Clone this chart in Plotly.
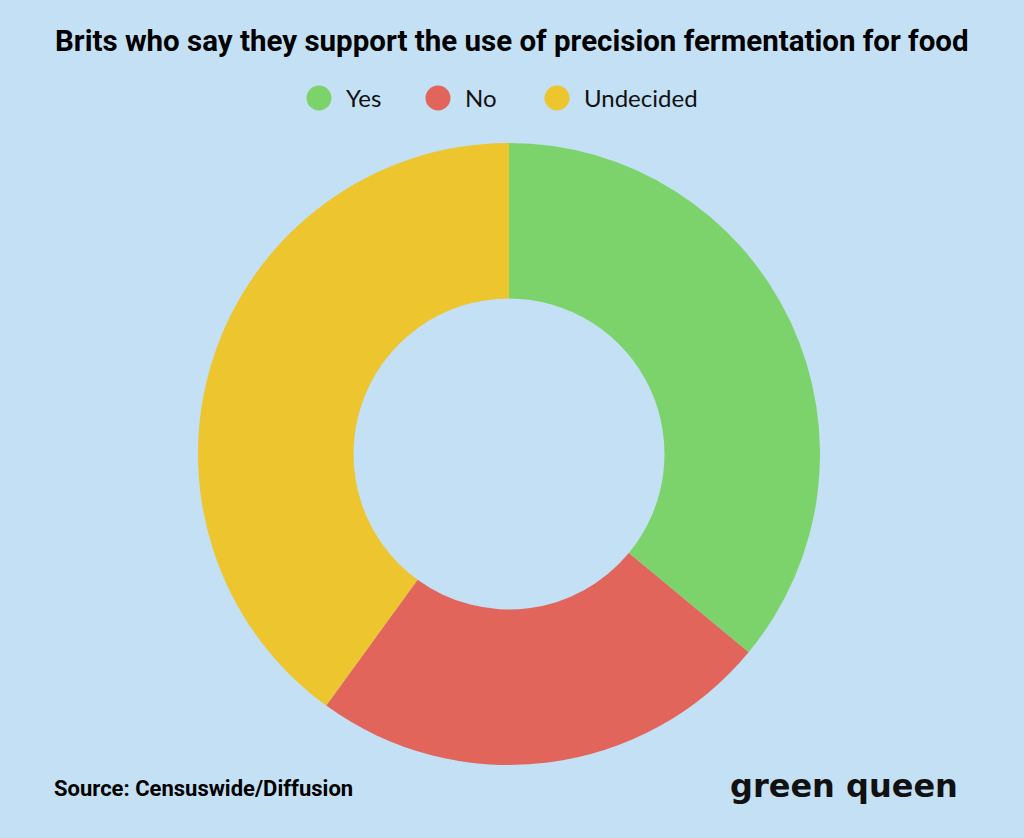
import plotly.graph_objects as go

labels = ["Yes", "No", "Undecided"]
values = [36, 24, 40]
colors = ["#7DD36B", "#E2655C", "#ECC52F"]

title_text = "Brits who say they support the use of precision fermentation for food"
source_text = "Source: Censuswide/Diffusion"
brand_text = "green queen"

W, H = 1024, 838
bg = "#C3E0F4"
head_font = "Roboto, Liberation Sans, sans-serif"

fig = go.Figure(
    go.Pie(
        labels=labels,
        values=values,
        hole=0.5,
        sort=False,
        direction="clockwise",
        rotation=0,
        textinfo="none",
        hoverinfo="label+percent",
        marker=dict(colors=colors, line=dict(width=0)),
        domain=dict(x=[198 / W, 820 / W], y=[73 / H, 695 / H]),
        showlegend=False,
    )
)

# legend drawn by hand so the swatches can be circles
legend_x = [319, 438, 557]
shapes = []
annotations = []
for lab, col, cx in zip(labels, colors, legend_x):
    shapes.append(
        dict(
            type="circle",
            xref="paper",
            yref="paper",
            xsizemode="pixel",
            ysizemode="pixel",
            xanchor=cx / W,
            yanchor=1 - 98 / H,
            x0=-12.5,
            x1=12.5,
            y0=-12.5,
            y1=12.5,
            fillcolor=col,
            line=dict(width=0),
        )
    )
    annotations.append(
        dict(
            text=lab,
            x=(cx + 25) / W,
            y=1 - 98 / H,
            xref="paper",
            yref="paper",
            xanchor="left",
            yanchor="middle",
            showarrow=False,
            font=dict(family="Lato, Noto Sans, sans-serif", size=24, color="#111111"),
        )
    )

annotations += [
    dict(
        text="<b>" + title_text + "</b>",
        x=0.5,
        y=1 - 41 / H,
        xref="paper",
        yref="paper",
        xanchor="center",
        yanchor="middle",
        showarrow=False,
        font=dict(family=head_font, size=29.5, color="#000000"),
    ),
    dict(
        text="<b>" + source_text + "</b>",
        x=52 / W,
        y=1 - 788 / H,
        xref="paper",
        yref="paper",
        xanchor="left",
        yanchor="middle",
        showarrow=False,
        font=dict(family=head_font, size=22, color="#000000"),
    ),
    dict(
        text="<b>" + brand_text + "</b>",
        x=960 / W,
        y=1 - 786 / H,
        xref="paper",
        yref="paper",
        xanchor="right",
        yanchor="middle",
        showarrow=False,
        font=dict(family="DejaVu Sans, sans-serif", size=32, color="#111111"),
    ),
]

fig.update_layout(
    width=W,
    height=H,
    margin=dict(l=0, r=0, t=0, b=0),
    paper_bgcolor=bg,
    plot_bgcolor=bg,
    shapes=shapes,
    annotations=annotations,
)

fig.write_html("out.html", config={"displayModeBar": False})

# drop the default page margin so the figure sits at the window corner
with open("out.html") as f:
    html = f.read()
html = html.replace("</head>", "<style>body{margin:0;background:%s;}</style></head>" % bg)
with open("out.html", "w") as f:
    f.write(html)
